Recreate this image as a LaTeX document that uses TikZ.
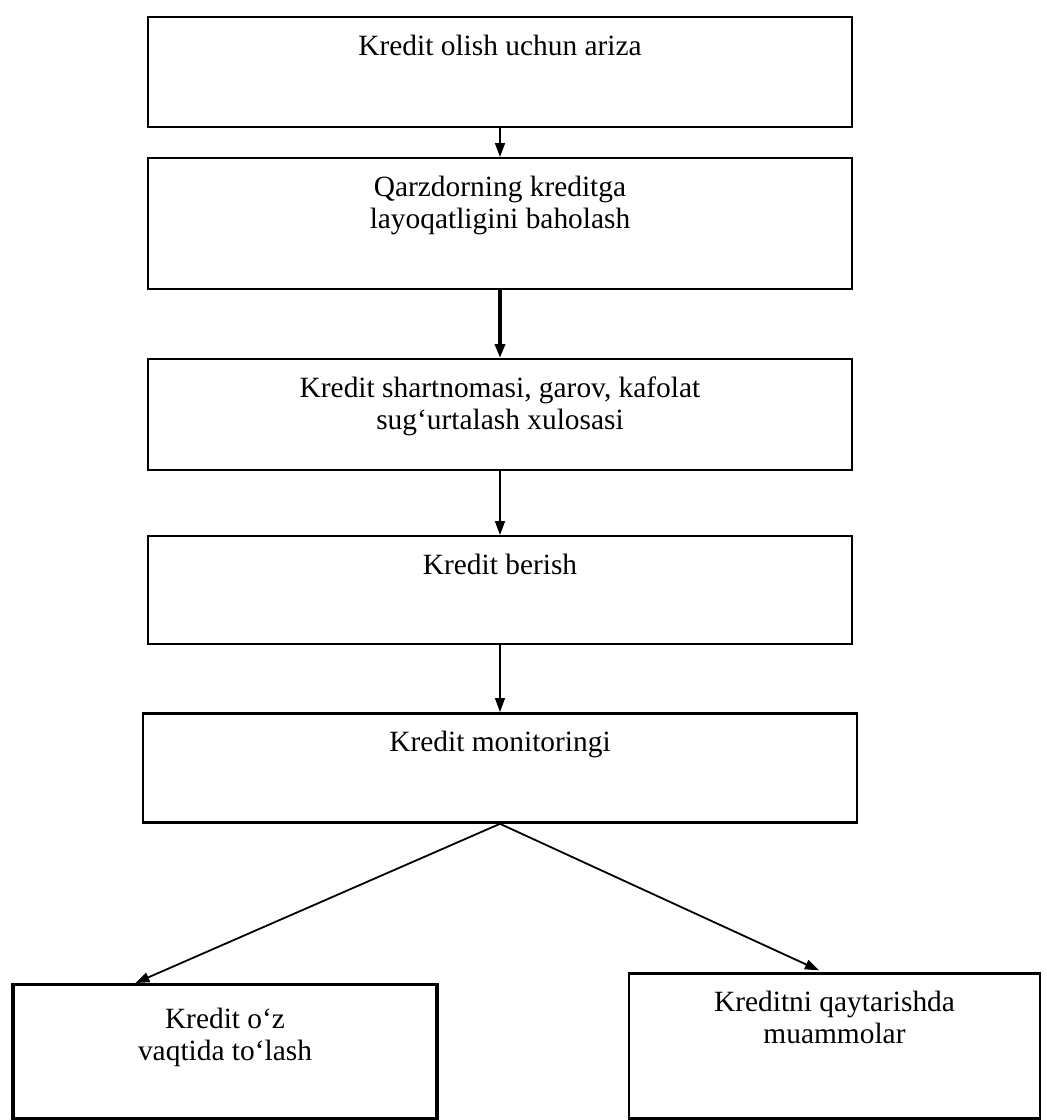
\documentclass[tikz,border=0pt]{standalone}
\usepackage{fontspec}
\setmainfont{Liberation Serif}
\usepackage{tikz}
\usetikzlibrary{arrows.meta,positioning}
\newcommand{\stagefont}{\fontsize{14.7pt}{16pt}\selectfont}
\tikzset{
  stagebox/.style={
    rectangle,
    draw=black,
    line width=1pt,
    anchor=north,
    align=center,
    inner xsep=0pt,
    inner ysep=0pt,
    text height=19pt,
    minimum width=352pt,
    font=\stagefont
  },
  stagearrow/.style={
    -{Triangle[length=7pt,width=5pt]},
    line width=0.9pt,
    draw=black
  }
}

\begin{document}
\begin{tikzpicture}[x=0.5pt,y=-0.5pt]
\useasboundingbox (0,0) rectangle (1046,1120);
\node[stagebox, text depth=36pt] (apply) at (500,16) {Kredit olish uchun ariza};
\node[stagebox, text height=35pt, text depth=30.5pt, below=14.5pt of apply] (assess) {Qarzdorning kreditga\\layoqatligini baholash};
\node[stagebox, text height=35pt, text depth=20.5pt, below=34pt of assess] (contract) {Kredit shartnomasi, garov, kafolat\\sug‘urtalash xulosasi};
\node[stagebox, text depth=35pt, below=32pt of contract] (issue) {Kredit berish};
\node[stagebox, line width=1.4pt, text depth=35.5pt, minimum width=357pt, below=33.5pt of issue] (monitor) {Kredit monitoringi};
\node[stagebox, line width=1.6pt, text height=38pt, text depth=29pt, minimum width=212pt] (ontime) at (225,983) {Kredit o‘z\\vaqtida to‘lash};
\node[stagebox, line width=1.4pt, text height=35pt, text depth=37.5pt, minimum width=205.5pt] (problem) at (834.5,972) {Kreditni qaytarishda\\muammolar};

\draw[stagearrow] (apply) -- (assess);
\draw[stagearrow, line width=2pt] (assess) -- (contract);
\draw[stagearrow] (contract) -- (issue);
\draw[stagearrow, line width=0.6pt] (issue) -- (monitor);
\draw[stagearrow] (monitor.south) -- ([xshift=62pt]ontime.north west);
\draw[stagearrow, shorten >=2pt] (monitor.south) -- ([xshift=97.5pt]problem.north west);
\end{tikzpicture}
\end{document}
